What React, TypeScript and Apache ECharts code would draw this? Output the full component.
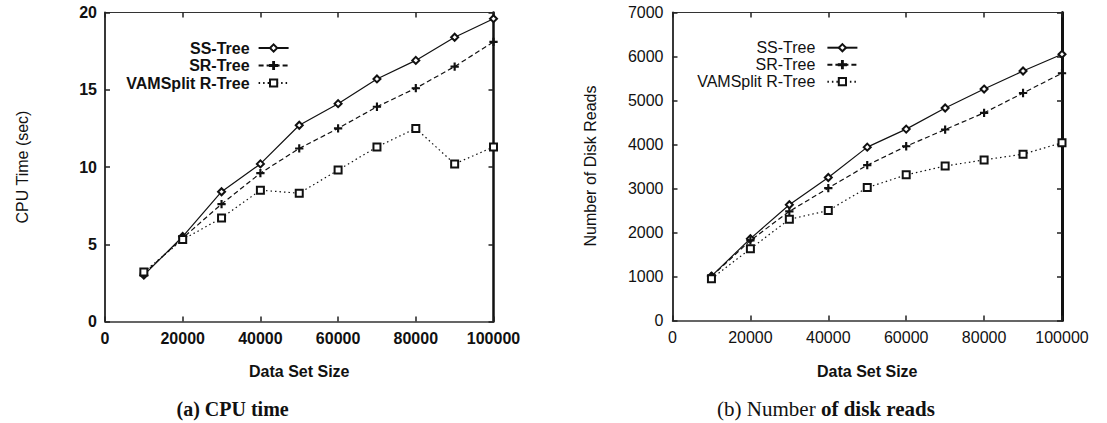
import React, { useEffect, useRef } from "react";
import * as echarts from "echarts";

const sizes = [10000, 20000, 30000, 40000, 50000, 60000, 70000, 80000, 90000, 100000];
const cpuSS = [3.0, 5.5, 8.4, 10.2, 12.7, 14.1, 15.7, 16.9, 18.4, 19.6];
const cpuSR = [3.1, 5.4, 7.6, 9.6, 11.2, 12.5, 13.9, 15.1, 16.5, 18.1];
const cpuVAM = [3.2, 5.3, 6.7, 8.5, 8.3, 9.8, 11.3, 12.5, 10.2, 11.3];
const diskSS = [1010, 1860, 2630, 3250, 3940, 4350, 4830, 5260, 5670, 6050];
const diskSR = [1000, 1820, 2480, 3010, 3530, 3960, 4340, 4720, 5170, 5620];
const diskVAM = [950, 1630, 2300, 2500, 3020, 3310, 3510, 3650, 3780, 4040];
const seriesNames = ["SS-Tree", "SR-Tree", "VAMSplit R-Tree"];
const xLabel = "Data Set Size";
const cpuLabel = "CPU Time (sec)";
const diskLabel = "Number of Disk Reads";

const SANS = "'Liberation Sans', Arial, sans-serif";
const SERIF = "'Liberation Serif', 'Times New Roman', serif";
const PLUS = "path://M4.4,0H5.6V4.4H10V5.6H5.6V10H4.4V5.6H0V4.4H4.4Z";

const pairs = (ys: number[]) => sizes.map((x, i) => [x, ys[i]]);

function makeSeries(gi: number, ys: number[][]) {
  const styles = [
    { symbol: "emptyDiamond", size: 7, type: "solid" as any },
    { symbol: PLUS, size: 7, type: [5, 3] as any },
    { symbol: "emptyRect", size: 7, type: [1.5, 3] as any },
  ];
  return ys.map((d, i) => ({
    type: "line",
    name: seriesNames[i],
    xAxisIndex: gi * 2,
    yAxisIndex: gi * 2,
    data: pairs(d),
    symbol: styles[i].symbol,
    symbolSize: styles[i].size,
    showAllSymbol: true,
    lineStyle: { color: "#111", width: 1.2, type: styles[i].type },
    itemStyle: { color: "#111", borderColor: "#111", borderWidth: 1.3 },
    emphasis: { disabled: true },
  }));
}

function xAxes(gi: number, bold: boolean, lw: number) {
  const common = {
    gridIndex: gi,
    type: "value",
    min: 0,
    max: 100000,
    interval: 20000,
    splitLine: { show: false },
  };
  return [
    {
      ...common,
      position: "bottom",
      axisLine: { onZero: false, lineStyle: { color: "#333", width: 1.5 } },
      axisTick: { inside: true, length: 5, lineStyle: { color: "#222", width: 1.5 } },
      axisLabel: {
        margin: 9,
        color: "#111",
        fontFamily: SANS,
        fontSize: 16,
        fontWeight: bold ? "bold" : "normal",
        formatter: (v: number) => String(v),
      },
      name: xLabel,
      nameLocation: "middle",
      nameGap: gi === 0 ? 42 : 43,
      nameTextStyle: { color: "#111", fontFamily: SANS, fontSize: 16, fontWeight: "bold" },
    },
    {
      ...common,
      position: "top",
      axisLine: { onZero: false, lineStyle: { color: "#333", width: lw } },
      axisTick: { inside: true, length: 5, lineStyle: { color: "#222", width: 1.5 } },
      axisLabel: { show: false },
    },
  ];
}

function yAxes(gi: number, max: number, interval: number, bold: boolean, rw: number) {
  const common = {
    gridIndex: gi,
    type: "value",
    min: 0,
    max,
    interval,
    splitLine: { show: false },
  };
  return [
    {
      ...common,
      position: "left",
      axisLine: { onZero: false, lineStyle: { color: "#222", width: 1.8 } },
      axisTick: { inside: true, length: 5, lineStyle: { color: "#222", width: 1.5 } },
      axisLabel: {
        margin: gi === 0 ? 8 : 9,
        color: "#111",
        fontFamily: SANS,
        fontSize: 16,
        fontWeight: bold ? "bold" : "normal",
        formatter: (v: number) => String(v),
      },
    },
    {
      ...common,
      position: "right",
      axisLine: { onZero: false, lineStyle: { color: "#111", width: rw } },
      axisTick: { inside: true, length: 5, lineStyle: { color: "#222", width: 1.5 } },
      axisLabel: { show: false },
    },
  ];
}

export default function App() {
  const ref = useRef<HTMLDivElement>(null);
  useEffect(() => {
    if (!ref.current) return;
    const chart = echarts.init(ref.current, null, { renderer: "svg" });
    const option: any = {
      animation: false,
      backgroundColor: "#fff",
      grid: [
        { left: 105, top: 12.5, width: 388.5, height: 309 },
        { left: 672.5, top: 12.5, width: 389.5, height: 308 },
      ],
      xAxis: [...xAxes(0, true, 1.2), ...xAxes(1, false, 1.2)],
      yAxis: [...yAxes(0, 20, 5, true, 2.5), ...yAxes(1, 7000, 1000, false, 3)],
      legend: [
        {
          data: seriesNames,
          orient: "vertical",
          align: "right",
          right: 812.4,
          top: 35,
          itemWidth: 30,
          itemHeight: 9,
          itemGap: 1.5,
          selectedMode: false,
          textStyle: { color: "#111", fontFamily: SANS, fontSize: 16, fontWeight: "bold", padding: [0, 4, 0, 0] },
        },
        {
          data: seriesNames,
          orient: "vertical",
          align: "right",
          right: 243.6,
          top: 34.7,
          itemWidth: 30,
          itemHeight: 9,
          itemGap: 1,
          selectedMode: false,
          textStyle: { color: "#111", fontFamily: SANS, fontSize: 16, fontWeight: "normal", padding: [0, 7, 0, 0] },
        },
      ],
      series: [
        ...makeSeries(0, [cpuSS, cpuSR, cpuVAM]),
        ...makeSeries(1, [diskSS, diskSR, diskVAM]),
      ],
      graphic: [
        {
          type: "text",
          x: 22,
          y: 167,
          rotation: Math.PI / 2,
          style: { text: cpuLabel, fill: "#111", font: `16px ${SANS}`, textAlign: "center", textVerticalAlign: "middle" },
        },
        {
          type: "text",
          x: 590,
          y: 166,
          rotation: Math.PI / 2,
          style: { text: diskLabel, fill: "#111", font: `16px ${SANS}`, textAlign: "center", textVerticalAlign: "middle" },
        },
        {
          type: "text",
          x: 232.6,
          y: 409,
          style: {
            text: "(a) CPU time",
            fill: "#111",
            font: `bold 20px ${SERIF}`,
            textAlign: "center",
            textVerticalAlign: "middle",
          },
        },
        {
          type: "text",
          x: 826,
          y: 409,
          style: {
            text: "{a|(b) Number }{b|of}{c| disk reads}",
            fill: "#111",
            textAlign: "center",
            textVerticalAlign: "middle",
            rich: {
              a: { fontFamily: SERIF, fontSize: 21, fontWeight: "normal", fill: "#111" },
              b: { fontFamily: SERIF, fontSize: 21, fontWeight: "bold", fill: "#111" },
              c: { fontFamily: SERIF, fontSize: 21, fontWeight: "bold", fill: "#111" },
            },
          },
        },
      ],
    };
    chart.setOption(option);
    return () => chart.dispose();
  }, []);
  return (
    <div
      ref={ref}
      style={{ position: "fixed", left: 0, top: 0, width: 1107, height: 423, background: "#fff" }}
    />
  );
}
